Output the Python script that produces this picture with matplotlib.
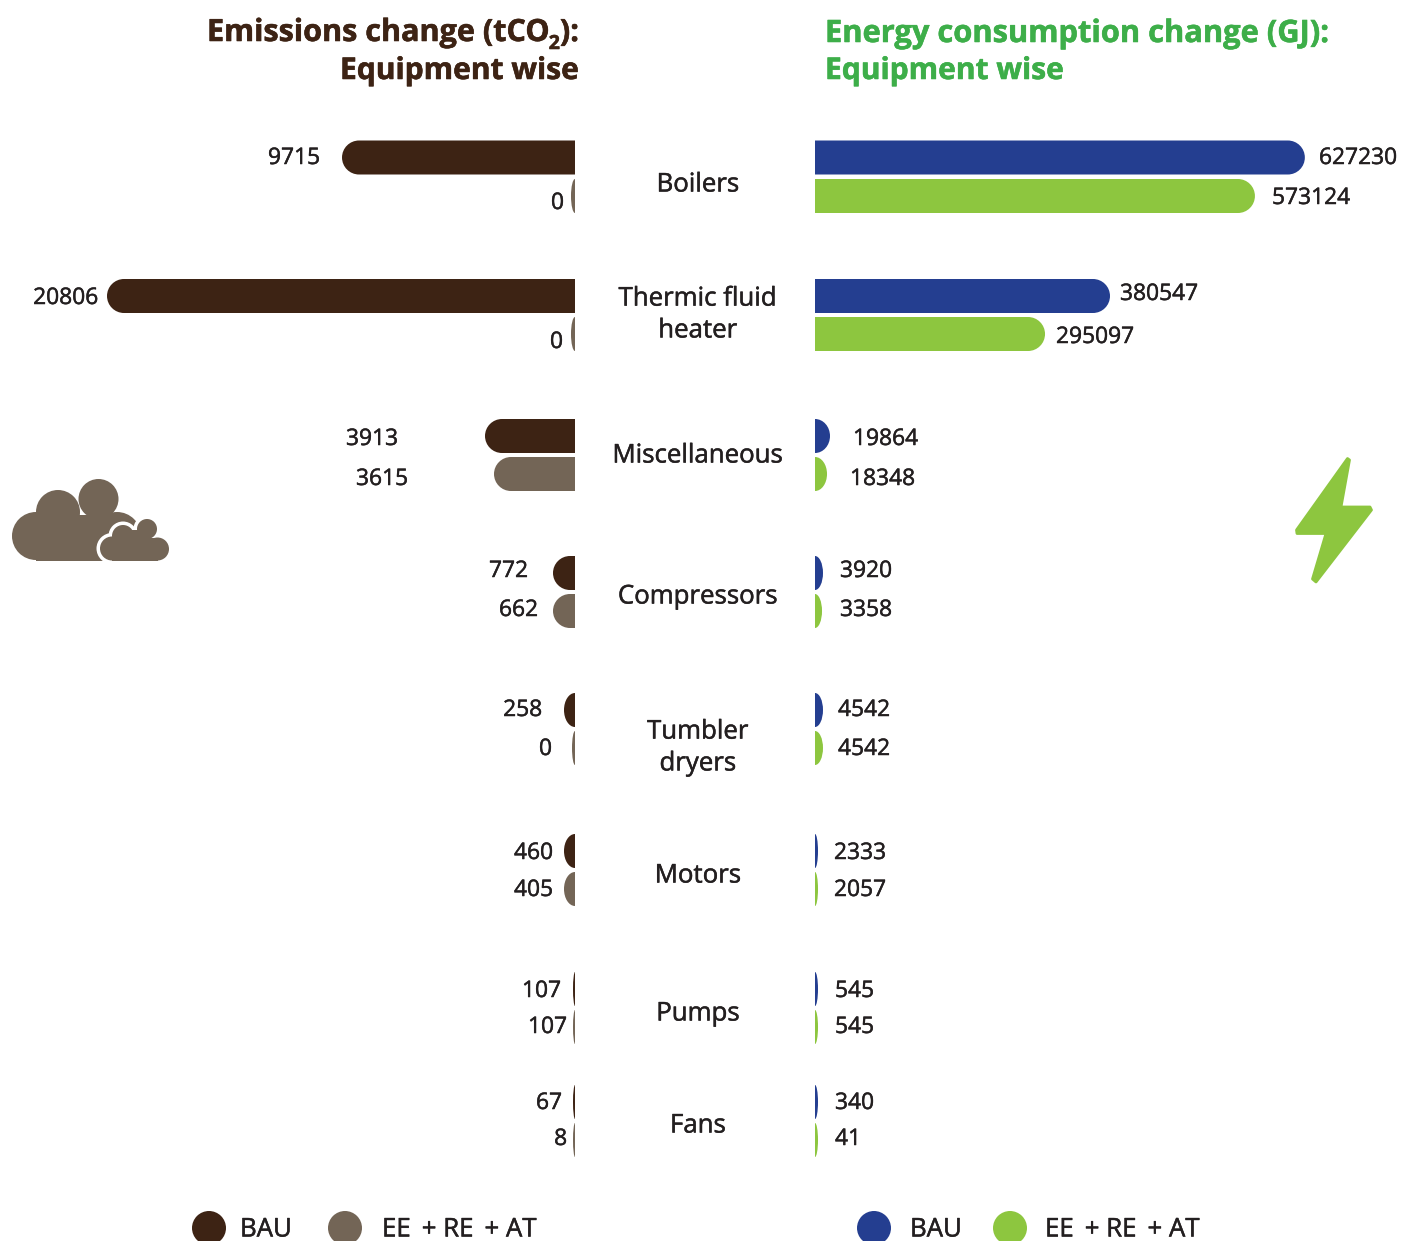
import matplotlib
matplotlib.use('Agg')
import matplotlib.pyplot as plt
import matplotlib.patheffects as pe
from matplotlib.patches import Circle, PathPatch, Polygon, Rectangle
from matplotlib.path import Path

plt.rcParams['font.family'] = ['Open Sans', 'DejaVu Sans']

categories = ['Boilers', 'Thermic fluid\nheater', 'Miscellaneous', 'Compressors',
              'Tumbler\ndryers', 'Motors', 'Pumps', 'Fans']

# printed values
co2_bau = [9715, 20806, 3913, 772, 258, 460, 107, 67]
co2_ee = [0, 0, 3615, 662, 0, 405, 107, 8]
gj_bau = [627230, 380547, 19864, 3920, 4542, 2333, 545, 340]
gj_ee = [573124, 295097, 18348, 3358, 4542, 2057, 545, 41]

# bar lengths as drawn in the picture (small ones do not follow the printed value)
co2_bau_len = [10355, 20800, 4000, 978, 489, 489, 89, 89]
co2_ee_len = [178, 178, 3600, 978, 133, 489, 89, 89]
gj_bau_len = [628000, 378200, 19230, 10250, 10250, 3850, 3850, 3850]
gj_ee_len = [564000, 294900, 15400, 9000, 10250, 3850, 3850, 3850]

BROWN = '#3d2314'
TAUPE = '#736556'
BLUE = '#243e90'
GREEN = '#8dc63f'
TITLE_GREEN = '#3dae49'
TEXT = '#231f20'

W, H = 1402, 1241
AXIS_L, AXIS_R = 575, 815
CO2_PX = 0.0225
GJ_PX = 0.00078
BAR_H = 34

# layout in pixels
y_bau = [157.5, 296, 436, 573, 710, 851, 989, 1102]
y_ee = [196, 334, 474, 611, 748, 889, 1027, 1140]
y_cat = [185, 315, 456, 597, 748, 876, 1014, 1126]
co2_bau_lab = [(320, 158), (98, 298), (398, 439), (528, 571), (542, 710), (553, 853), (561, 991), (562, 1103)]
co2_ee_lab = [(564, 203), (563, 342), (408, 479), (538, 610), (552, 749), (553, 890), (567, 1027), (567, 1139)]
gj_bau_lab = [(1319, 158), (1120, 294), (853, 439), (840, 571), (838, 710), (834, 853), (835, 991), (835, 1103)]
gj_ee_lab = [(1272, 198), (1056, 337), (850, 479), (840, 610), (838, 749), (834, 890), (835, 1027), (835, 1139)]

# Segoe-like weight: a hair heavier than Open Sans regular
heavier = [pe.withStroke(linewidth=0.35, foreground=TEXT)]


def round_bar(ax, y, length, px, color):
    # flat on the axis, elliptical cap at the far end
    r = BAR_H / 2
    rx = min(length, r / px)
    k = 0.5523
    top, bot = y - r, y + r
    x0 = length - rx
    verts = [(0, top), (x0, top),
             (x0 + k * rx, top), (length, y - k * r), (length, y),
             (length, y + k * r), (x0 + k * rx, bot), (x0, bot),
             (0, bot), (0, top)]
    codes = [Path.MOVETO, Path.LINETO,
             Path.CURVE4, Path.CURVE4, Path.CURVE4,
             Path.CURVE4, Path.CURVE4, Path.CURVE4,
             Path.LINETO, Path.CLOSEPOLY]
    ax.add_patch(PathPatch(Path(verts, codes), fc=color, ec='none'))


fig = plt.figure(figsize=(W / 100, H / 100), dpi=100)

ax_l = fig.add_axes([0, 0, AXIS_L / W, 1])
ax_l.set_xlim(AXIS_L / CO2_PX, 0)
ax_l.set_ylim(H, 0)
ax_l.axis('off')

ax_r = fig.add_axes([AXIS_R / W, 0, (W - AXIS_R) / W, 1])
ax_r.set_xlim(0, (W - AXIS_R) / GJ_PX)
ax_r.set_ylim(H, 0)
ax_r.axis('off')

for i in range(len(categories)):
    round_bar(ax_l, y_bau[i], co2_bau_len[i], CO2_PX, BROWN)
    round_bar(ax_l, y_ee[i], co2_ee_len[i], CO2_PX, TAUPE)
    round_bar(ax_r, y_bau[i], gj_bau_len[i], GJ_PX, BLUE)
    round_bar(ax_r, y_ee[i], gj_ee_len[i], GJ_PX, GREEN)

# overlay in pixel coordinates for text and icons
ov = fig.add_axes([0, 0, 1, 1])
ov.set_xlim(0, W)
ov.set_ylim(H, 0)
ov.axis('off')
ov.patch.set_alpha(0)

for i, cat in enumerate(categories):
    ov.text(698, y_cat[i], cat, ha='center', va='center', fontsize=18.6, color=TEXT,
            linespacing=1.36, path_effects=heavier)
    for (x, y), val, ha in [(co2_bau_lab[i], co2_bau[i], 'right'), (co2_ee_lab[i], co2_ee[i], 'right'),
                            (gj_bau_lab[i], gj_bau[i], 'left'), (gj_ee_lab[i], gj_ee[i], 'left')]:
        ov.text(x, y, str(val), ha=ha, va='center', fontsize=16.4, color=TEXT, path_effects=heavier)

# titles, the left one is put together from the right so the subscript sits lower
bold_brown = [pe.withStroke(linewidth=0.4, foreground=BROWN)]
bold_green = [pe.withStroke(linewidth=0.4, foreground=TITLE_GREEN)]
renderer = fig.canvas.get_renderer()
x = 579
for s, dy, size in [('):', 0, 22), ('2', 8, 14), ('Emissions change (tCO', 0, 22)]:
    t = ov.text(x, 41 + dy, s, ha='right', va='baseline', fontsize=size, fontweight='bold',
                color=BROWN, path_effects=bold_brown)
    x -= t.get_window_extent(renderer).width
ov.text(579, 71, 'Equipment wise', ha='right', va='center', fontsize=21.6, fontweight='bold',
        color=BROWN, path_effects=bold_brown)
ov.text(825, 34, 'Energy consumption change (GJ):', ha='left', va='center', fontsize=22.2, fontweight='bold',
        color=TITLE_GREEN, path_effects=bold_green)
ov.text(825, 71, 'Equipment wise', ha='left', va='center', fontsize=21.6, fontweight='bold',
        color=TITLE_GREEN, path_effects=bold_green)

# legends
for cx, c in [(209, BROWN), (345, TAUPE), (874, BLUE), (1010, GREEN)]:
    ov.add_patch(Circle((cx, 1228), 17, fc=c, ec='none'))
for lx, s in [(240, 'BAU'), (382, 'EE + RE + AT'), (910, 'BAU'), (1045, 'EE + RE + AT')]:
    ov.text(lx, 1230, s.replace(' + ', ' \u2009+ '), ha='left', va='center', fontsize=18.6,
            color=TEXT, path_effects=heavier)

# cloud icon
for c, r in [((36, 536), 24), ((58, 512), 22), ((98.5, 499), 20), ((117, 536), 24)]:
    ov.add_patch(Circle(c, r, fc=TAUPE, ec='none'))
ov.add_patch(Rectangle((36, 515), 81, 45.5, fc=TAUPE, ec='none'))
small = [((112, 548.5), 12), ((123, 536), 11), ((147, 529), 10), ((157.5, 549), 11.5)]
for c, r in small:
    ov.add_patch(Circle(c, r + 3.5, fc='white', ec='none'))
ov.add_patch(Rectangle((112, 532), 46, 29, fc='white', ec='none'))
ov.add_patch(Rectangle((96, 560.5), 80, 10, fc='white', ec='none'))
for c, r in small:
    ov.add_patch(Circle(c, r, fc=TAUPE, ec='none'))
ov.add_patch(Rectangle((112, 538), 46, 22.5, fc=TAUPE, ec='none'))
ov.add_patch(Rectangle((123, 530), 24, 10, fc=TAUPE, ec='none'))

# bolt icon
ov.add_patch(Polygon([(1347.5, 458.5), (1349.5, 460), (1341, 507), (1370, 507), (1371.5, 510),
                      (1316, 582), (1312.5, 579), (1326, 533.5), (1297, 533.5), (1296.5, 530)],
                     closed=True, fc=GREEN, ec=GREEN, lw=2, joinstyle='round'))

fig.savefig('out.png', dpi=100)
